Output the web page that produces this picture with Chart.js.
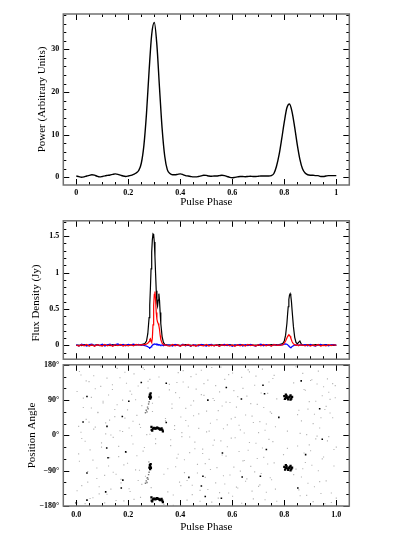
<!DOCTYPE html>
<html>
<head>
<meta charset="utf-8">
<script src="https://cdn.jsdelivr.net/npm/chart.js@4.4.1/dist/chart.umd.min.js"></script>
<style>
  body { margin: 0; background: #fff; }
  #wrap { position: relative; width: 396px; height: 541px; }
  canvas { position: absolute; left: 0; }
</style>
</head>
<body>
<div id="wrap">
  <canvas id="power" width="396" height="212" style="top:0px"></canvas>
  <canvas id="flux" width="396" height="156" style="top:212px"></canvas>
  <canvas id="angle" width="396" height="185" style="top:356px"></canvas>
</div>
<script>
// top panel: power profile
let powerPhase = [
  0.00, 0.01, 0.02, 0.03, 0.04, 0.05, 0.06, 0.07, 0.08, 0.09,
  0.10, 0.11, 0.12, 0.13, 0.14, 0.15, 0.16, 0.17, 0.18, 0.19,
  0.20, 0.21, 0.22, 0.23, 0.24, 0.25, 0.26, 0.27, 0.28, 0.29,
  0.30, 0.31, 0.32, 0.33, 0.34, 0.35, 0.36, 0.37, 0.38, 0.39,
  0.40, 0.41, 0.42, 0.43, 0.44, 0.45, 0.46, 0.47, 0.48, 0.49,
  0.50, 0.51, 0.52, 0.53, 0.54, 0.55, 0.56, 0.57, 0.58, 0.59,
  0.60, 0.61, 0.62, 0.63, 0.64, 0.65, 0.66, 0.67, 0.68, 0.69,
  0.70, 0.71, 0.72, 0.73, 0.74, 0.75, 0.76, 0.77, 0.78, 0.79,
  0.80, 0.81, 0.82, 0.83, 0.84, 0.85, 0.86, 0.87, 0.88, 0.89,
  0.90, 0.91, 0.92, 0.93, 0.94, 0.95, 0.96, 0.97, 0.98, 0.99,
  1.00
];
let powerValues = [
  0.3, 0.15, 0.0, 0.1, 0.3, 0.45, 0.6, 0.5, 0.25, 0.1,
  0.2, 0.35, 0.45, 0.55, 0.7, 0.8, 0.7, 0.5, 0.3, 0.2,
  0.3, 0.45, 0.7, 1.0, 1.6, 3.3, 7.5, 15.0, 25.0, 33.5,
  36.3, 31.0, 21.0, 11.5, 5.0, 1.8, 0.9, 0.6, 0.6, 0.7,
  0.8, 0.65, 0.4, 0.3, 0.2, 0.1, 0.1, 0.2, 0.35, 0.5,
  0.45, 0.3, 0.25, 0.3, 0.3, 0.4, 0.5, 0.4, 0.2, 0.0,
  -0.1, 0.0, 0.1, 0.2, 0.2, 0.15, 0.2, 0.25, 0.2, 0.2,
  0.25, 0.3, 0.3, 0.3, 0.3, 0.4, 0.9, 2.6, 5.3, 9.0,
  13.0, 16.3, 17.2, 15.3, 11.7, 7.6, 4.2, 2.0, 1.0, 0.6,
  0.5, 0.5, 0.4, 0.4, 0.2, 0.2, 0.3, 0.4, 0.4, 0.4,
  0.4
];
let powerTickValues = [0, 0.2, 0.4, 0.6, 0.8, 1];
let powerTickLabels = ["0", "0.2", "0.4", "0.6", "0.8", "1"];
let powerYTicks = [0, 10, 20, 30];
let powerYLabels = ["0", "10", "20", "30"];

// middle panel: flux density, total (black), linear (red), circular (blue)
let fluxPhase = [
  0.00, 0.01, 0.02, 0.03, 0.04, 0.05, 0.06, 0.07, 0.08, 0.09,
  0.10, 0.11, 0.12, 0.13, 0.14, 0.15, 0.16, 0.17, 0.18, 0.19,
  0.20, 0.21, 0.22, 0.23, 0.24, 0.25,
  0.255, 0.26, 0.265, 0.27, 0.275, 0.28, 0.2825, 0.285, 0.2875, 0.29,
  0.2925, 0.295, 0.2975, 0.30, 0.3025, 0.305, 0.3075, 0.31, 0.3125, 0.315,
  0.3175, 0.32, 0.3225, 0.325, 0.33, 0.335, 0.34, 0.345, 0.35,
  0.36, 0.37, 0.38, 0.39, 0.40, 0.41, 0.42, 0.43, 0.44, 0.45,
  0.46, 0.47, 0.48, 0.49, 0.50, 0.51, 0.52, 0.53, 0.54, 0.55,
  0.56, 0.57, 0.58, 0.59, 0.60, 0.61, 0.62, 0.63, 0.64, 0.65,
  0.66, 0.67, 0.68, 0.69, 0.70, 0.71, 0.72, 0.73, 0.74, 0.75,
  0.76, 0.77,
  0.775, 0.78, 0.785, 0.79, 0.795, 0.80, 0.805, 0.81, 0.8125, 0.815,
  0.8175, 0.82, 0.8225, 0.825, 0.8275, 0.83, 0.835, 0.84, 0.845, 0.85,
  0.855, 0.86, 0.865, 0.87,
  0.88, 0.89, 0.90, 0.91, 0.92, 0.93, 0.94, 0.95, 0.96, 0.97,
  0.98, 0.99, 1.00
];
let fluxTotal = [
  0.00, 0.005, -0.005, 0.01, 0.0, -0.005, 0.005, 0.0, 0.01, -0.005,
  0.005, 0.0, 0.005, -0.005, 0.01, 0.0, 0.005, 0.01, 0.005, 0.0,
  0.01, 0.005, 0.01, 0.005, 0.01, 0.01,
  0.015, 0.02, 0.03, 0.06, 0.16, 0.38, 0.55, 0.78, 1.05, 1.28,
  1.45, 1.53, 1.52, 1.42, 1.22, 0.98, 0.75, 0.58, 0.54, 0.62,
  0.71, 0.62, 0.45, 0.3, 0.12, 0.04, 0.015, 0.01, 0.005,
  0.005, 0.0, 0.01, 0.005, 0.0, 0.005, 0.01, 0.0, 0.005, -0.005,
  0.005, 0.0, 0.01, 0.005, 0.0, 0.005, -0.005, 0.005, 0.0, 0.01,
  0.005, 0.0, 0.005, 0.01, 0.0, 0.005, 0.0, 0.01, 0.005, 0.0,
  0.005, 0.01, 0.0, 0.005, 0.0, 0.01, 0.005, 0.0, 0.005, 0.01,
  0.005, 0.01,
  0.005, 0.01, 0.015, 0.02, 0.03, 0.06, 0.14, 0.3, 0.42, 0.53,
  0.63, 0.69, 0.71, 0.68, 0.6, 0.48, 0.26, 0.11, 0.04, 0.02,
  0.04, 0.06, 0.02, 0.005,
  0.005, 0.01, 0.0, 0.005, 0.01, 0.005, 0.0, 0.005, 0.01, 0.0,
  0.005, 0.0, 0.005
];
let fluxLinear = [
  0.005, -0.01, 0.01, -0.005, 0.012, -0.01, 0.008, -0.012, 0.01, 0.0,
  -0.01, 0.012, -0.008, 0.01, -0.012, 0.008, -0.005, 0.012, -0.01, 0.006,
  -0.008, 0.01, -0.006, 0.012, 0.004, 0.01,
  0.005, 0.01, 0.01, 0.02, 0.03, 0.05, 0.08, 0.09, 0.06, 0.04,
  0.1, 0.28, 0.55, 0.7, 0.74, 0.62, 0.45, 0.36, 0.32, 0.3,
  0.27, 0.22, 0.14, 0.08, 0.03, 0.01, 0.0, 0.008, -0.005,
  -0.01, 0.012, -0.006, 0.01, -0.012, 0.008, -0.004, 0.012, -0.01, 0.006,
  -0.012, 0.01, 0.0, -0.008, 0.012, -0.01, 0.006, -0.006, 0.01, -0.012,
  0.008, -0.004, 0.012, -0.008, 0.006, -0.012, 0.01, -0.006, 0.008, -0.01,
  0.012, -0.004, 0.006, -0.01, 0.01, -0.008, 0.012, -0.006, 0.008, -0.01,
  0.01, 0.004,
  0.0, 0.005, 0.0, 0.005, 0.01, 0.03, 0.06, 0.1, 0.12, 0.135,
  0.145, 0.14, 0.125, 0.1, 0.075, 0.05, 0.02, 0.01, 0.0, 0.008,
  -0.005, 0.01, 0.0, 0.005,
  -0.008, 0.01, -0.01, 0.006, -0.006, 0.012, -0.01, 0.004, -0.008, 0.01,
  -0.004, 0.008, 0.0
];
let fluxCircular = [
  0.01, -0.008, 0.015, 0.005, -0.01, 0.012, 0.018, -0.005, 0.01, 0.0,
  0.015, -0.01, 0.008, 0.016, -0.004, 0.01, 0.02, 0.0, 0.012, -0.006,
  0.015, 0.008, 0.018, 0.005, 0.012, 0.0,
  0.005, 0.0, -0.005, -0.01, -0.02, -0.03, -0.035, -0.03, -0.02, -0.01,
  0.0, 0.01, 0.015, 0.02, 0.02, 0.015, 0.02, 0.01, 0.015, 0.01,
  0.005, 0.01, 0.005, 0.0, 0.005, -0.005, 0.01, 0.0, 0.005,
  0.005, -0.01, 0.012, 0.0, -0.008, 0.015, -0.005, 0.008, -0.012, 0.01,
  0.0, -0.008, 0.012, 0.004, -0.01, 0.008, 0.014, -0.006, 0.01, -0.01,
  0.006, 0.012, -0.004, 0.01, -0.012, 0.008, 0.0, 0.014, -0.008, 0.01,
  -0.004, 0.012, 0.0, -0.01, 0.008, 0.016, -0.006, 0.01, 0.004, -0.008,
  0.012, 0.0,
  0.005, 0.0, 0.01, 0.005, 0.01, 0.015, 0.02, 0.015, 0.01, 0.0,
  -0.01, -0.02, -0.025, -0.03, -0.025, -0.015, -0.005, 0.005, 0.0, 0.01,
  0.005, 0.0, 0.008, 0.0,
  0.01, -0.006, 0.012, 0.0, -0.01, 0.008, 0.014, -0.004, 0.01, -0.008,
  0.006, 0.01, 0.0
];
let fluxYTicks = [0, 0.5, 1, 1.5];
let fluxYLabels = ["0", "0.5", "1", "1.5"];

// bottom panel: position angle (each PA also shown at PA -/+ 180)
let noisePhase = [
  0.003, 0.009, 0.012, 0.018, 0.021, 0.027, 0.034, 0.038, 0.044, 0.049,
  0.053, 0.058, 0.064, 0.067, 0.073, 0.079, 0.083, 0.088, 0.094, 0.097,
  0.103, 0.109, 0.113, 0.118, 0.124, 0.128, 0.133, 0.139, 0.142, 0.148,
  0.153, 0.157, 0.163, 0.168, 0.172, 0.178, 0.183, 0.187, 0.193, 0.197,
  0.203, 0.207, 0.213, 0.218, 0.222, 0.228, 0.233, 0.238, 0.243, 0.247,
  0.252, 0.257, 0.262, 0.266, 0.271, 0.276, 0.279, 0.283, 0.288, 0.293,
  0.305, 0.318, 0.337, 0.343, 0.352, 0.358, 0.363, 0.368, 0.373, 0.378,
  0.382, 0.387, 0.392, 0.397, 0.402, 0.406, 0.411, 0.416, 0.421, 0.426,
  0.431, 0.436, 0.441, 0.446, 0.451, 0.456, 0.461, 0.466, 0.471, 0.476,
  0.481, 0.486, 0.491, 0.496, 0.501, 0.506, 0.511, 0.516, 0.521, 0.526,
  0.531, 0.536, 0.541, 0.546, 0.551, 0.556, 0.561, 0.566, 0.571, 0.576,
  0.581, 0.586, 0.591, 0.596, 0.601, 0.606, 0.611, 0.616, 0.621, 0.626,
  0.631, 0.636, 0.641, 0.646, 0.651, 0.656, 0.661, 0.666, 0.671, 0.676,
  0.681, 0.686, 0.691, 0.696, 0.701, 0.706, 0.711, 0.716, 0.721, 0.726,
  0.731, 0.736, 0.741, 0.746, 0.751, 0.756, 0.761, 0.766, 0.771, 0.797,
  0.812, 0.836, 0.845, 0.851, 0.856, 0.861, 0.866, 0.871, 0.876, 0.881,
  0.886, 0.891, 0.896, 0.901, 0.906, 0.911, 0.916, 0.921, 0.926, 0.931,
  0.936, 0.941, 0.946, 0.951, 0.956, 0.961, 0.966, 0.971, 0.976, 0.981,
  0.986, 0.991, 0.996, 1.0
];
let noiseAngleA = [
  112, -47, 163, 8, -128, 71, -15, 139, -92, 34,
  -161, 97, -63, 152, 21, -110, 58, -149, 125, -30,
  83, -172, 4, 146, -78, 39, -137, 117, -5, 66,
  -99, 171, -54, 12, -121, 90, -167, 44, 133, -71,
  19, -143, 105, -22, 157, -88, 51, -115, 28, -158,
  76, -40, 168, -104, 2, 121, -67, 143, -133, 61,
  -9, 98, -176, 37, -85, 130, -26, 80, -152, 15,
  109, -58, 160, -119, 47, -3, 136, -95, 69, -165,
  24, -44, 150, -127, 88, -17, 118, -74, 55, -140,
  166, -35, 102, -107, 9, 141, -61, 31, -170, 94,
  -12, 127, -82, 63, -146, 174, -50, 17, -124, 85,
  -29, 155, -101, 42, -155, 114, -6, 72, -134, 26,
  -91, 148, -65, 6, -117, 100, -38, 162, -79, 49,
  -162, 128, -20, 79, -130, 35, -97, 169, -56, 13,
  -145, 107, -10, 60, -113, 145, -70, 22, -168, 92,
  -33, 134, -86, 53, -139, 5, -106, 158, -45, 115,
  -153, 67, -24, 140, -76, 30, -131, 87, -2, 164,
  -118, 45, -60, 124, -174, 74, -14, 110, 57, -147,
  132, -36, 96, -160
];
let noiseAngleB = [
  -141, 23, -66, 154, -8, 95, -174, 41, -119, 137,
  -37, 70, -159, 16, 119, -83, 59, -131, 177, -19,
  87, -102, 32, -150, 103, -57, 1, 129, -94, 48,
  -166, 78, -28, 147, -112, 10, -75, 161, -43, 65,
  -136, 113, -1, 36, -163, 91, -52, 126, -89, 20,
  -125, 172, -31, 57, -109, 138, -68, 3, -157, 82,
  -21, 149, -99, 43, -144, 116, -11, 69, -178, 25,
  -80, 135, -48, 96, -128, 7, 165, -62, 38, -115,
  123, -4, 77, -151, 50, -34, 156, -96, 18, -168,
  104, -46, 132, -72, 62, -138, 11, -87, 173, -25,
  89, -121, 40, -160, 111, -14, 75, -103, 143, -53,
  27, -147, 84, -7, 159, -81, 46, -132, 99, -41,
  14, -173, 120, -64, 52, -111, 167, -18, 81, -142,
  33, -93, 151, -59, 7, -126, 108, -32, 71, -164,
  29, -73, 136, -108, 56, -16, 153, -137, 93, -49,
  11, -100, 175, -27, 64, -154, 37, -85, 117, -69,
  2, -122, 86, -39, 142, -169, 54, -9, 131, -90,
  19, -148, 101, -55, 66, -116, 144, -3, 92, -171,
  45, -78, 127, -30
];
let strayPhase = [0.041, 0.202, 0.25, 0.177, 0.026, 0.118, 0.346, 0.346, 0.506, 0.577,
  0.635, 0.718, 0.724, 0.779, 0.865, 0.936, 0.946, 0.117, 0.19, 0.122,
  0.562, 0.731, 0.882, 0.433, 0.487, 0.481, 0.179, 0.173, 0.041, 0.113,
  0.041, 0.638, 0.708, 0.852, 0.558, 0.496, 0.0];
let strayAngle = [99, 87, 135, 48, 34, 23, 133, 33, 90, 122,
  93, 128, 106, 46, 139, 68, -10, -32, -42, -57,
  -45, -36, -49, -107, -104, -129, -114, -134, -96, -144,
  -165, -106, -104, -134, -160, -156, -172];
let weakPhase = [0.266, 0.269, 0.272, 0.274, 0.276, 0.278, 0.280];
let weakAngle = [58, 64, 60, 72, 68, 80, 86];
let pulsePhase = [
  0.281, 0.283, 0.284, 0.285, 0.286, 0.287,
  0.289, 0.29, 0.292, 0.295, 0.298, 0.301, 0.304, 0.307, 0.31, 0.313,
  0.316, 0.319, 0.322, 0.325, 0.328, 0.331, 0.333,
  0.80, 0.803, 0.806, 0.809, 0.812, 0.815, 0.818, 0.821, 0.824, 0.827,
  0.83, 0.806, 0.824
];
let pulseAngle = [
  98, 104, 94, 100, 107, 97,
  22, 14, 12, 17, 19, 18, 17, 18, 20, 19,
  18, 17, 15, 16, 18, 14, 10,
  100, 93, 97, 101, 96, 92, 97, 99, 102, 94,
  98, 104, 91
];
let angleXTicks = [0, 0.2, 0.4, 0.6, 0.8, 1.0];
let angleXLabels = ["0.0", "0.2", "0.4", "0.6", "0.8", "1.0"];
let angleYTicks = [-180, -90, 0, 90, 180];
let angleYLabels = ["\u2212180\u00b0", "\u221290\u00b0", "0\u00b0", "90\u00b0", "180\u00b0"];

const tickFont = { family: "Liberation Serif", size: 8, weight: "bold" };
const titleFont = { family: "Liberation Serif", size: 11 };

// frame with inward major/minor ticks on all four sides
const frameTicks = {
  id: "frameTicks",
  afterDraw(chart, args, opts) {
    const { ctx, chartArea: a, scales } = chart;
    ctx.save();
    ctx.strokeStyle = "#000";
    ctx.lineWidth = 1;
    function marks(scale, from, to, minor, major, horiz) {
      let n = Math.round((to - from) / minor);
      for (let i = 0; i <= n; i++) {
        let v = from + i * minor;
        let isMajor = Math.abs(v / major - Math.round(v / major)) < 1e-6;
        let len = isMajor ? 6 : 3;
        let p = Math.round(scale.getPixelForValue(v)) + 0.5;
        ctx.beginPath();
        if (horiz) {
          ctx.moveTo(p, a.bottom); ctx.lineTo(p, a.bottom - len);
          ctx.moveTo(p, a.top); ctx.lineTo(p, a.top + len);
        } else {
          ctx.moveTo(a.left, p); ctx.lineTo(a.left + len, p);
          ctx.moveTo(a.right, p); ctx.lineTo(a.right - len, p);
        }
        ctx.stroke();
      }
    }
    marks(scales.x, opts.x[0], opts.x[1], opts.x[2], opts.x[3], true);
    marks(scales.y, opts.y[0], opts.y[1], opts.y[2], opts.y[3], false);
    ctx.strokeStyle = "#707070";
    ctx.lineWidth = 1.5;
    ctx.strokeRect(a.left, a.top, a.right - a.left, a.bottom - a.top);
    // y title drawn by hand where it is not centred on the frame
    if (opts.sideTitle) {
      ctx.translate(opts.sideTitle.x, opts.sideTitle.y);
      ctx.rotate(-Math.PI / 2);
      ctx.fillStyle = "#000";
      ctx.font = titleFont.size + "px '" + titleFont.family + "'";
      ctx.textAlign = "center";
      ctx.textBaseline = "middle";
      ctx.fillText(opts.sideTitle.text, 0, 0);
    }
    ctx.restore();
  },
};

function xScale(tickValues, tickLabels, title, height, pad) {
  return {
    type: "linear",
    min: -0.05,
    max: 1.05,
    display: title !== null,
    grid: { display: false, drawTicks: false },
    border: { display: false },
    afterBuildTicks: (s) => { s.ticks = tickValues.map((v) => ({ value: v })); },
    afterFit: (s) => { s.height = height; },
    ticks: {
      color: "#000",
      font: tickFont,
      padding: pad,
      maxRotation: 0,
      autoSkip: false,
      callback: (v, i) => tickLabels[i],
    },
    title: { display: title !== null, text: title || "", color: "#000", font: titleFont, padding: 0 },
  };
}

function yScale(min, max, tickValues, tickLabels, title, width) {
  return {
    min: min,
    max: max,
    grid: { display: false, drawTicks: false },
    border: { display: false },
    afterBuildTicks: (s) => { s.ticks = tickValues.map((v) => ({ value: v })); },
    afterFit: (s) => { s.width = width; },
    ticks: {
      color: "#000",
      font: tickFont,
      padding: 4,
      autoSkip: false,
      callback: (v, i) => tickLabels[i],
    },
    title: { display: title !== null, text: title || "", color: "#000", font: titleFont, padding: 0 },
  };
}

const common = {
  responsive: false,
  animation: false,
  events: [],
};

// top panel
new Chart(document.getElementById("power"), {
  type: "line",
  data: {
    datasets: [
      {
        data: powerPhase.map((p, i) => ({ x: p, y: powerValues[i] })),
        borderColor: "#000",
        borderWidth: 1.4,
        pointRadius: 0,
        cubicInterpolationMode: "monotone",
      },
    ],
  },
  options: {
    ...common,
    layout: { padding: { left: 35.1, right: 46.7, top: 14, bottom: 3.1 } },
    plugins: {
      legend: { display: false },
      tooltip: { enabled: false },
      frameTicks: { x: [0, 1, 0.05, 0.2], y: [0, 38, 2, 10] },
    },
    scales: {
      x: xScale(powerTickValues, powerTickLabels, "Pulse Phase", 23.9, 3.2),
      y: yScale(-1.8, 38.3, powerYTicks, powerYLabels, "Power (Arbitrary Units)", 28.2),
    },
  },
  plugins: [frameTicks],
});

// middle panel
new Chart(document.getElementById("flux"), {
  type: "line",
  data: {
    datasets: [
      {
        label: "Linear",
        data: fluxPhase.map((p, i) => ({ x: p, y: fluxLinear[i] })),
        borderColor: "#ff0000",
        borderWidth: 1.2,
        pointRadius: 0,
        order: 0,
      },
      {
        label: "Circular",
        data: fluxPhase.map((p, i) => ({ x: p, y: fluxCircular[i] })),
        borderColor: "#0000ff",
        borderWidth: 1.2,
        pointRadius: 0,
        order: 1,
      },
      {
        label: "Total",
        data: fluxPhase.map((p, i) => ({ x: p, y: fluxTotal[i] })),
        borderColor: "#000",
        borderWidth: 1.2,
        pointRadius: 0,
        order: 2,
      },
    ],
  },
  options: {
    ...common,
    layout: { padding: { left: 29.9, right: 46.7, top: 7, bottom: 4 } },
    plugins: {
      legend: { display: false },
      tooltip: { enabled: false },
      frameTicks: {
        x: [0, 1, 0.05, 0.2],
        y: [-0.1, 1.7, 0.1, 0.5],
        sideTitle: { text: "Flux Density (Jy)", x: 36.5, y: 91 },
      },
    },
    scales: {
      x: xScale([], [], null, 0, 0),
      y: yScale(-0.19, 1.71, fluxYTicks, fluxYLabels, null, 33.4),
    },
  },
  plugins: [frameTicks],
});

// bottom panel
function twice(phases, angles) {
  let pts = [];
  let n = Math.min(phases.length, angles.length);
  for (let i = 0; i < n; i++) {
    pts.push({ x: phases[i], y: angles[i] });
    pts.push({ x: phases[i], y: angles[i] > 0 ? angles[i] - 180 : angles[i] + 180 });
  }
  return pts;
}
function once(phases, angles) {
  let n = Math.min(phases.length, angles.length);
  return phases.slice(0, n).map((p, i) => ({ x: p, y: angles[i] }));
}

new Chart(document.getElementById("angle"), {
  type: "scatter",
  data: {
    datasets: [
      {
        data: once(noisePhase, noiseAngleA).concat(once(noisePhase, noiseAngleB)),
        pointRadius: 0.8,
        pointStyle: "rect",
        backgroundColor: "#b4b4b4",
        borderWidth: 0,
        order: 3,
      },
      {
        data: twice(weakPhase, weakAngle),
        pointRadius: 1,
        pointStyle: "rect",
        backgroundColor: "#777",
        borderWidth: 0,
        order: 2,
      },
      {
        data: once(strayPhase, strayAngle),
        pointRadius: 1.1,
        pointStyle: "rect",
        backgroundColor: "#000",
        borderWidth: 0,
        order: 1,
      },
      {
        data: twice(pulsePhase, pulseAngle),
        pointRadius: 1.6,
        pointStyle: "rect",
        backgroundColor: "#000",
        borderWidth: 0,
        order: 0,
      },
    ],
  },
  options: {
    ...common,
    layout: { padding: { left: 25.9, right: 46.7, top: 8, bottom: 7.4 } },
    plugins: {
      legend: { display: false },
      tooltip: { enabled: false },
      frameTicks: { x: [0, 1, 0.05, 0.2], y: [-180, 180, 30, 90] },
    },
    scales: {
      x: xScale(angleXTicks, angleXLabels, "Pulse Phase", 27.6, 4.2),
      y: yScale(-180, 180, angleYTicks, angleYLabels, "Position Angle", 37.4),
    },
  },
  plugins: [frameTicks],
});
</script>
</body>
</html>
